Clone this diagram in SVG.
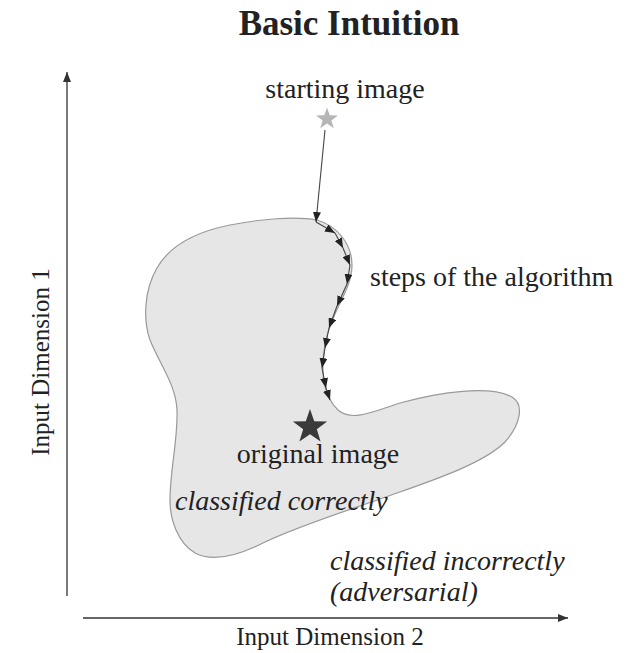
<svg xmlns="http://www.w3.org/2000/svg" width="630" height="653" viewBox="0 0 630 653">
<style>
text{font-family:"Liberation Serif","Times New Roman",serif;fill:#222}
.t{font-size:28px}
.ax{font-size:25px}
.it{font-style:italic}
.ln{stroke:#333;stroke-width:1.3;fill:none}
.st{stroke:#444;stroke-width:1.1;fill:none;marker-end:url(#sa)}
</style>
<defs>
<marker id="ah" viewBox="0 0 10 8" refX="10" refY="4" markerWidth="10" markerHeight="8" markerUnits="userSpaceOnUse" orient="auto"><path d="M0,0 L10,4 L0,8 Z" fill="#333"/></marker>
<marker id="sa" viewBox="0 0 10 8" refX="10" refY="4" markerWidth="10" markerHeight="8" markerUnits="userSpaceOnUse" orient="auto"><path d="M0,0 L10,4 L0,8 Z" fill="#222"/></marker>
</defs>
<rect width="630" height="653" fill="#fff"/>
<text x="349" y="35" text-anchor="middle" style="font-size:35px;font-weight:bold">Basic Intuition</text>
<g id="region">
<path d="M 317,220 C 338,226 352,245 352,265 C 352,290 332,310 326,340 C 320,368 322,395 338,410 C 352,422 372,412 400,403 C 440,392 490,385 512,397 C 525,405 520,425 505,442 C 485,462 440,478 397,493 C 350,510 300,525 263,543 C 235,557 212,562 195,553 C 178,543 170,520 170,500 C 170,470 178,440 177,410 C 176,385 160,365 150,340 C 143,320 144,290 157,268 C 170,245 195,232 230,225 C 260,219 295,216 317,220 Z" fill="#e6e6e6" stroke="#999" stroke-width="1.2"/>
</g>
<g id="axes">
<line class="ln" x1="67" y1="596" x2="67" y2="72" marker-end="url(#ah)"/>
<line class="ln" x1="83" y1="618" x2="568" y2="618" marker-end="url(#ah)"/>
<text class="ax" transform="translate(49,362) rotate(-90)" text-anchor="middle">Input Dimension 1</text>
<text class="ax" x="330" y="645" text-anchor="middle">Input Dimension 2</text>
</g>
<g id="starting-image">
<polygon fill="#b5b5b5" transform="translate(327,119) scale(1.15)" points="0,-10 2.35,-3.24 9.51,-3.09 3.8,1.24 5.88,8.09 0,4 -5.88,8.09 -3.8,1.24 -9.51,-3.09 -2.35,-3.24"/>
<text class="t" x="345" y="98" text-anchor="middle">starting image</text>
</g>
<g id="original-image">
<polygon fill="#3a3a3a" transform="translate(310,427) scale(1.8)" points="0,-10 2.35,-3.24 9.51,-3.09 3.8,1.24 5.88,8.09 0,4 -5.88,8.09 -3.8,1.24 -9.51,-3.09 -2.35,-3.24"/>
<text class="t" x="318" y="463" text-anchor="middle">original image</text>
</g>
<g id="connectors">
<line class="st" x1="325" y1="130" x2="316" y2="222"/>
<line class="st" x1="316" y1="222" x2="335" y2="233"/>
<line class="st" x1="335" y1="233" x2="343" y2="248"/>
<line class="st" x1="343" y1="248" x2="350" y2="265"/>
<line class="st" x1="350" y1="265" x2="347" y2="284"/>
<line class="st" x1="347" y1="284" x2="337" y2="306"/>
<line class="st" x1="337" y1="306" x2="329" y2="328"/>
<line class="st" x1="329" y1="328" x2="325" y2="348"/>
<line class="st" x1="325" y1="348" x2="322" y2="368"/>
<line class="st" x1="322" y1="368" x2="326" y2="388"/>
<line class="st" x1="326" y1="388" x2="330" y2="400"/>
</g>
<g id="labels">
<text class="t" x="370" y="286">steps of the algorithm</text>
<text class="t it" x="175" y="510">classified correctly</text>
<text class="t it" x="330" y="570">classified incorrectly</text>
<text class="t it" x="330" y="601">(adversarial)</text>
</g>
</svg>
